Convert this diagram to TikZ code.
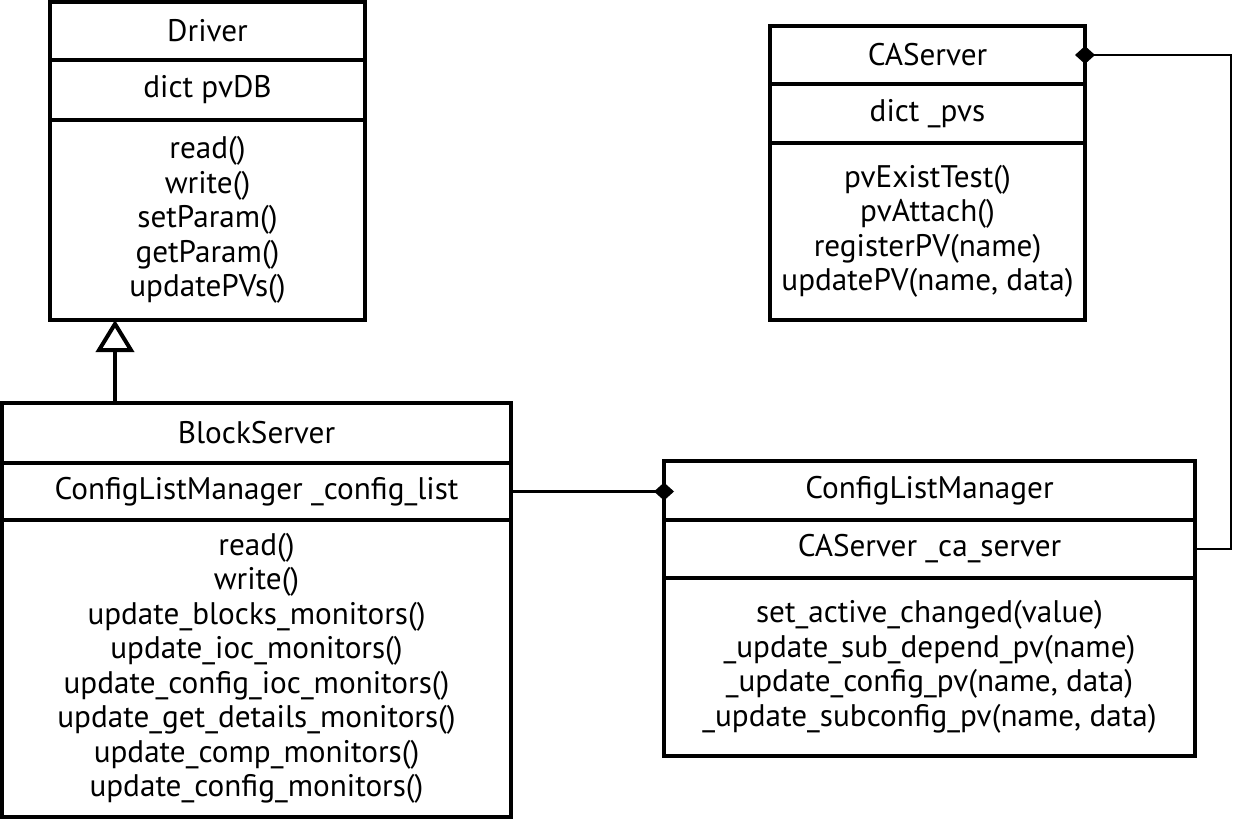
\documentclass[tikz,border=0pt]{standalone}
\usepackage{fontspec}
\setmainfont{PT Sans}
\usetikzlibrary{positioning,arrows.meta}
\tikzstyle{cls}=[%
      rectangle, draw=black, line width=2pt, fill=white, align=center,
      outer sep=0pt, inner sep=0pt, font=\fontsize{15.6}{17.25}\selectfont
]
\begin{document}
\begin{tikzpicture}[x=0.5pt, y=-0.5pt,
    inherit/.style={line width=2pt, -{Triangle[open, length=16pt, width=19pt]}},
    compose/.style={line width=1.3pt, -{Diamond[length=10pt, width=9pt]}, shorten >=-5pt},
]
    \useasboundingbox (0,0) rectangle (1236,824);
    % Driver
    \node[cls, minimum width=157.5pt, minimum height=29pt, anchor=north west] (drv) at (50,2) {Driver};
    \node[cls, minimum width=157.5pt, minimum height=30pt]  (drvattr) [below = 0pt of drv] {dict pvDB};
    \node[cls, minimum width=157.5pt, minimum height=100pt] (drvops) [below = 0pt of drvattr]
        {read()\\write()\\setParam()\\getParam()\\updatePVs()};
    % CAServer
    \node[cls, minimum width=157.5pt, minimum height=29pt, anchor=north west] (ca) at (770,26) {CAServer};
    \node[cls, minimum width=157.5pt, minimum height=29.5pt] (caattr) [below = 0pt of ca] {dict \_pvs};
    \node[cls, minimum width=157.5pt, minimum height=88.5pt] (caops) [below = 0pt of caattr]
        {pvExistTest()\\pvAttach()\\registerPV(name)\\updatePV(name, data)};
    % BlockServer
    \node[cls, minimum width=254.5pt, minimum height=30pt, anchor=north west] (bs) at (2,403) {BlockServer};
    \node[cls, minimum width=254.5pt, minimum height=28.5pt] (bsattr) [below = 0pt of bs] {ConfigListManager \_config\_list};
    \node[cls, minimum width=254.5pt, minimum height=148.5pt] (bsops) [below = 0pt of bsattr]
        {read()\\write()\\update\_blocks\_monitors()\\update\_ioc\_monitors()\\update\_config\_ioc\_monitors()\\%
         update\_get\_details\_monitors()\\update\_comp\_monitors()\\update\_config\_monitors()};
    % ConfigListManager
    \node[cls, minimum width=265.5pt, minimum height=29.5pt, anchor=north west] (clm) at (664,461) {ConfigListManager};
    \node[cls, minimum width=265.5pt, minimum height=29pt] (clmattr) [below = 0pt of clm] {CAServer \_ca\_server};
    \node[cls, minimum width=265.5pt, minimum height=89pt] (clmops) [below = 0pt of clmattr]
        {set\_active\_changed(value)\\\_update\_sub\_depend\_pv(name)\\\_update\_config\_pv(name, data)\\%
         \_update\_subconfig\_pv(name, data)};
    % relations
    \coordinate (inh) at ([xshift=56.5pt]bs.north west);
    \draw[inherit] (inh) -- (inh |- drvops.south);
    \draw[compose] (bsattr.east) -- (clm.west |- bsattr.east);
    \draw[compose] (clmattr.east) -- ++(36,0) |- (ca.east);
\end{tikzpicture}
\end{document}
